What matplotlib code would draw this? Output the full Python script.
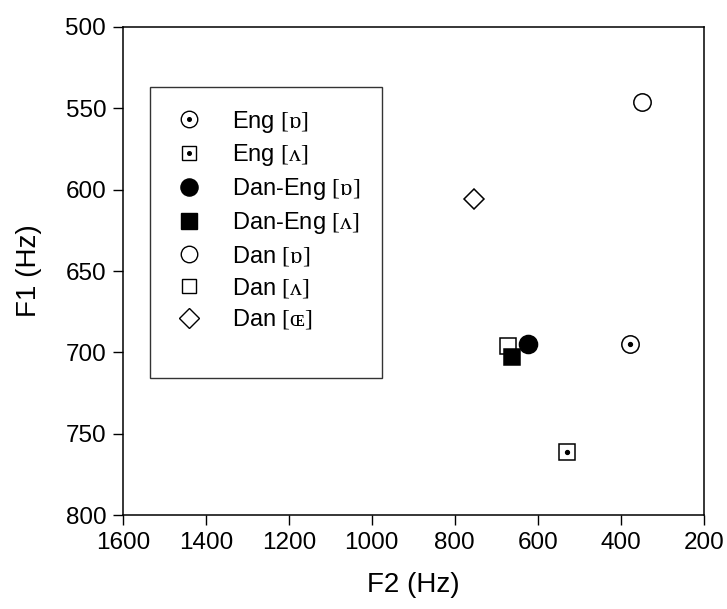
import numpy as np
import matplotlib
matplotlib.use("Agg")
import matplotlib.pyplot as plt
from matplotlib.lines import Line2D
from matplotlib.legend_handler import HandlerTuple

plt.rcParams['font.family'] = ['Liberation Sans', 'DejaVu Sans']
plt.rcParams['mathtext.fontset'] = 'custom'
plt.rcParams['mathtext.rm'] = 'Liberation Serif'

# vowel data (F2, F1) in Hz
names = ['Eng', 'Eng', 'Dan-Eng', 'Dan-Eng', 'Dan', 'Dan', 'Dan']
vowels = ['ɒ', 'ʌ', 'ɒ', 'ʌ', 'ɒ', 'ʌ', 'ɶ']
f2 = [378, 530, 623, 663, 349, 672, 754]
f1 = [695, 761, 695, 703, 546, 696, 606]

markers = ['o', 's', 'o', 's', 'o', 's', 'D']
sizes = [12.5, 11, 13, 11.5, 12.5, 11, 10.5]
faces = ['white', 'white', 'black', 'black', 'white', 'white', 'white']
dotted = [True, True, False, False, False, False, False]

labels = [n + r' $\mathrm{[' + v + ']}$' for n, v in zip(names, vowels)]

fig = plt.figure(figsize=(7.27, 6.09), dpi=100)
ax = fig.add_axes([0.169, 0.154, 0.799, 0.802])

# open Dan square sits under the filled Dan-Eng square
order = [0, 1, 4, 5, 6, 3, 2]
handles = [None] * len(labels)
for i in order:
    ax.plot(f2[i], f1[i], marker=markers[i], ms=sizes[i], mfc=faces[i],
            mec='black', mew=1.1, ls='none')
    h = Line2D([], [], marker=markers[i], ms=sizes[i] * 0.95, mfc=faces[i],
               mec='black', mew=1.0, ls='none')
    if dotted[i]:
        ax.plot(f2[i], f1[i], marker='o', ms=2.8, color='black', ls='none')
        d = Line2D([], [], marker='o', ms=2.6, color='black', ls='none')
        handles[i] = (h, d)
    else:
        handles[i] = h

blank = Line2D([], [], ls='none')
leg = ax.legend(handles + [blank], labels + [' '],
                handler_map={tuple: HandlerTuple(ndivide=1, pad=0)},
                loc='upper left', bbox_to_anchor=(0.046, 0.876),
                fontsize=17, frameon=True, fancybox=False,
                edgecolor='black', borderpad=0.9, labelspacing=0.33,
                handletextpad=1.1, handlelength=1.5, borderaxespad=0)
leg.get_frame().set_linewidth(1.0)
leg.get_texts()[-1].set_fontsize(4)

ax.set_xlim(1600, 200)
ax.set_ylim(800, 500)
ax.set_xticks(np.arange(1600, 199, -200))
ax.set_yticks(np.arange(500, 801, 50))
ax.tick_params(axis='both', direction='out', length=7, width=1,
               labelsize=17.5, top=False, right=False, pad=5)
for s in ax.spines.values():
    s.set_linewidth(1.1)

ax.set_xlabel('F2 (Hz)', fontsize=20, labelpad=13)
ax.set_ylabel('F1 (Hz)', fontsize=20, labelpad=17)

fig.savefig('out.png', dpi=100)
